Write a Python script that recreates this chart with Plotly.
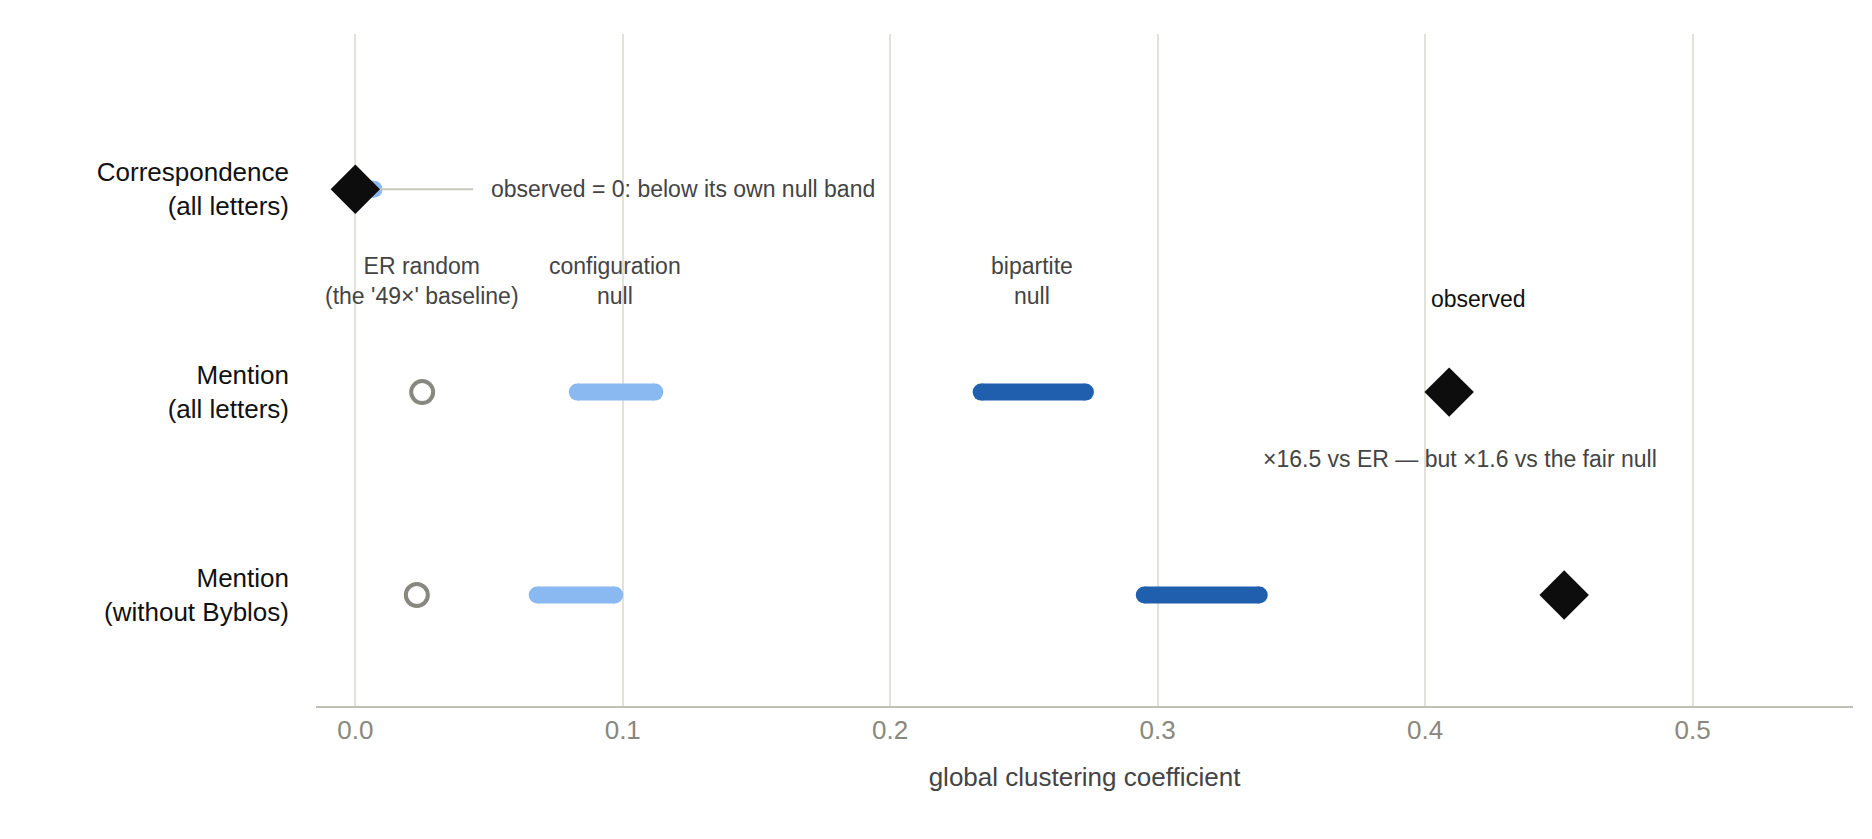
import plotly.graph_objects as go

rows = ["Correspondence<br>(all letters)", "Mention<br>(all letters)", "Mention<br>(without Byblos)"]
er = [None, 0.025, 0.023]
cfg_lo = [0.0, 0.083, 0.068]
cfg_hi = [0.007, 0.112, 0.097]
bip_lo = [None, 0.234, 0.295]
bip_hi = [None, 0.273, 0.338]
observed = [0.0, 0.409, 0.452]
yv = [0, 1, 2]

fig = go.Figure()
LB = "#8ab8f0"; DB = "#1f5fae"
W = 17
for i in range(3):
    fig.add_trace(go.Scatter(x=[cfg_lo[i], cfg_hi[i]], y=[yv[i]]*2, mode="lines",
                             line=dict(color=LB, width=W), showlegend=False))
    if bip_lo[i] is not None:
        fig.add_trace(go.Scatter(x=[bip_lo[i], bip_hi[i]], y=[yv[i]]*2, mode="lines",
                                 line=dict(color=DB, width=W), showlegend=False))
for lo, hi, c in [(cfg_lo, cfg_hi, LB), (bip_lo, bip_hi, DB)]:
    xs, ys = [], []
    for i in range(3):
        if lo[i] is not None:
            xs += [lo[i], hi[i]]; ys += [yv[i]]*2
    fig.add_trace(go.Scatter(x=xs, y=ys, mode="markers", marker=dict(color=c, size=W, line=dict(width=0)), showlegend=False))
fig.add_trace(go.Scatter(x=[0.005, 0.044], y=[0, 0], mode="lines", line=dict(color="#c8c8c0", width=2), showlegend=False))
fig.add_trace(go.Scatter(x=[e for e in er if e is not None], y=[1, 2], mode="markers",
                         marker=dict(symbol="circle-open", size=22, color="#888880", line=dict(width=4)), showlegend=False))
fig.add_trace(go.Scatter(x=observed, y=yv, mode="markers",
                         marker=dict(symbol="diamond", size=38, color="#0d0d0d"), showlegend=False))

ann = dict(font=dict(family="Liberation Sans, Arial", size=23, color="#444444"), showarrow=False)
fig.add_annotation(x=0.05, y=0, text="observed = 0: below its own null band", xanchor="left", **ann)
fig.add_annotation(x=0.025, y=0.45, text="ER random<br>(the '49×' baseline)", **ann)
fig.add_annotation(x=0.097, y=0.45, text="configuration<br>null", **ann)
fig.add_annotation(x=0.253, y=0.45, text="bipartite<br>null", **ann)
fig.add_annotation(x=0.42, y=0.54, text="observed", font=dict(family="Liberation Sans, Arial", size=23, color="#111"), showarrow=False)
fig.add_annotation(x=0.413, y=1.33, text="×16.5 vs ER — but ×1.6 vs the fair null", **ann)

fig.update_layout(
    width=1872, height=839, plot_bgcolor="white", paper_bgcolor="white",
    margin=dict(l=308, r=27, t=26, b=141),
    font=dict(family="Liberation Sans, Arial", size=25, color="#111"),
    xaxis=dict(range=[-0.0147, 0.56], tickvals=[0, 0.1, 0.2, 0.3, 0.4, 0.5], tickformat=".1f",
               showgrid=True, gridcolor="#e2e2da", gridwidth=1.5, zeroline=False,
               showline=True, linecolor="#c0c0b8", linewidth=1.5,
               tickfont=dict(size=26, color="#888880"), ticks="",
               title=dict(text="global clustering coefficient", font=dict(size=26, color="#444"), standoff=24)),
    yaxis=dict(range=[2.547, -0.765], tickvals=yv, ticktext=rows, showgrid=False, zeroline=False,
               tickfont=dict(size=26, color="#111"), ticks="", ticklabelstandoff=26),
)
fig.write_html("out.html")
